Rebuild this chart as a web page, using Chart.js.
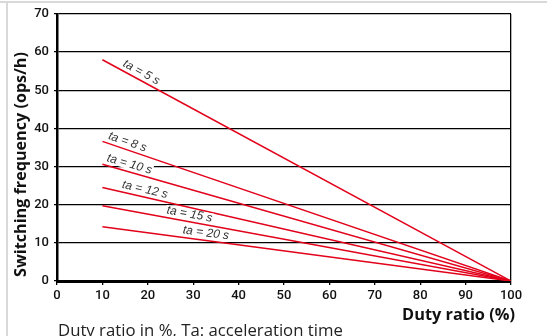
<!DOCTYPE html>
<html>
<head>
<meta charset="utf-8">
<script src="https://cdn.jsdelivr.net/npm/chart.js@4"></script>
<style>
  html, body { margin: 0; padding: 0; background: #fff; }
  #wrap { width: 547px; height: 336px; position: relative; }
</style>
</head>
<body>
<div id="wrap"><canvas id="chart" width="547" height="336"></canvas></div>
<script>
// duty ratio (%) at the two ends of every line
const dutyRatio = [10, 100];

// switching frequency (ops/h) for each acceleration time
const ta5 = [58, 0];
const ta8 = [36.6, 0];
const ta10 = [30.6, 0];
const ta12 = [24.5, 0];
const ta15 = [19.7, 0];
const ta20 = [14.2, 0];

const seriesNames = ["ta = 5 s", "ta = 8 s", "ta = 10 s", "ta = 12 s", "ta = 15 s", "ta = 20 s"];
const seriesValues = [ta5, ta8, ta10, ta12, ta15, ta20];

// where along each line (duty ratio) its label sits
const labelAt = [17.8, 15, 15.5, 19, 28.9, 32.6];

const xTicks = [0, 10, 20, 30, 40, 50, 60, 70, 80, 90, 100];
const yTicks = [0, 10, 20, 30, 40, 50, 60, 70];

const RED = "#e2001a";

// pick a font size so the text gets a given width
const fitFont = (ctx, text, weight, family, width) => {
  ctx.font = `${weight} 20px ${family}`;
  const size = (20 * width) / ctx.measureText(text).width;
  ctx.font = `${weight} ${size.toFixed(2)}px ${family}`;
};

const frame = {
  id: "frame",
  beforeDraw(chart) {
    const ctx = chart.ctx;
    ctx.save();
    ctx.strokeStyle = "#d9d9d9";
    ctx.lineWidth = 2;
    ctx.beginPath();
    ctx.moveTo(0, 2);
    ctx.lineTo(547, 2);
    ctx.moveTo(7, 2);
    ctx.lineTo(7, 336);
    ctx.stroke();
    ctx.restore();
  },
};

const lineLabels = {
  id: "lineLabels",
  afterDatasetsDraw(chart) {
    const ctx = chart.ctx;
    const x = chart.scales.x;
    const y = chart.scales.y;
    ctx.save();
    ctx.font = "italic 12px 'Liberation Sans', Arial, sans-serif";
    ctx.textAlign = "center";
    ctx.textBaseline = "middle";
    seriesValues.forEach((vals, i) => {
      const x0 = x.getPixelForValue(dutyRatio[0]);
      const y0 = y.getPixelForValue(vals[0]);
      const x1 = x.getPixelForValue(dutyRatio[1]);
      const y1 = y.getPixelForValue(vals[1]);
      const a = Math.atan2(y1 - y0, x1 - x0);
      const px = x.getPixelForValue(labelAt[i]);
      const py = y0 + (px - x0) * Math.tan(a);
      const off = 7.5;
      const w = ctx.measureText(seriesNames[i]).width;
      ctx.save();
      ctx.translate(px + off * Math.sin(a), py - off * Math.cos(a));
      ctx.rotate(a);
      ctx.fillStyle = "#fff";
      ctx.fillRect(-w / 2 - 1, -5, w + 2, 10);
      ctx.fillStyle = "#333";
      ctx.fillText(seriesNames[i], 0, 0);
      ctx.restore();
    });
    ctx.restore();
  },
};

const titles = {
  id: "titles",
  afterDraw(chart) {
    const ctx = chart.ctx;
    ctx.save();
    ctx.fillStyle = "#111";
    ctx.textBaseline = "middle";
    ctx.textAlign = "center";
    fitFont(ctx, "Switching frequency (ops/h)", "bold", "'Open Sans', sans-serif", 225);
    ctx.save();
    ctx.translate(21, 164.5);
    ctx.rotate(-Math.PI / 2);
    ctx.fillText("Switching frequency (ops/h)", 0, 0);
    ctx.restore();

    fitFont(ctx, "Duty ratio (%)", "bold", "'Open Sans', sans-serif", 113);
    ctx.textAlign = "right";
    ctx.textBaseline = "alphabetic";
    ctx.fillText("Duty ratio (%)", 515, 320);

    fitFont(ctx, "Duty ratio in %, Ta: acceleration time", "normal", "'Open Sans', sans-serif", 285);
    ctx.fillStyle = "#222";
    ctx.textAlign = "left";
    ctx.fillText("Duty ratio in %, Ta: acceleration time", 58, 335.5);
    ctx.restore();
  },
};

const tickFont = { family: "Roboto, 'Liberation Sans', Arial, sans-serif", size: 13, weight: 500 };

new Chart(document.getElementById("chart"), {
  type: "line",
  data: {
    datasets: seriesValues.map((vals, i) => ({
      label: seriesNames[i],
      data: dutyRatio.map((d, j) => ({ x: d, y: vals[j] })),
      borderColor: RED,
      borderWidth: 1.5,
      pointRadius: 0,
      fill: false,
    })),
  },
  options: {
    responsive: false,
    animation: false,
    layout: { padding: { left: 0, top: 14, right: 36, bottom: 0 } },
    plugins: { legend: { display: false }, tooltip: { enabled: false } },
    scales: {
      x: {
        type: "linear",
        min: 0,
        max: 100,
        afterBuildTicks: (s) => { s.ticks = xTicks.map((v) => ({ value: v })); },
        afterFit: (s) => { s.height = 55; },
        ticks: { color: "#111", font: tickFont, padding: 3, maxRotation: 0 },
        grid: {
          color: (c) => (c.tick && c.tick.value === 100 ? "#000" : "rgba(0,0,0,0)"),
          tickColor: "#000",
          lineWidth: 1.3,
          tickLength: 4,
        },
        border: { color: "#000", width: 3 },
      },
      y: {
        min: 0,
        max: 70,
        afterBuildTicks: (s) => { s.ticks = yTicks.map((v) => ({ value: v })); },
        afterFit: (s) => { s.width = 57; },
        ticks: { color: "#111", font: tickFont, padding: 5 },
        grid: { color: "#000", tickColor: "#000", lineWidth: 1.3, tickLength: 3 },
        border: { color: "#000", width: 2.5 },
      },
    },
  },
  plugins: [frame, lineLabels, titles],
});
</script>
</body>
</html>
